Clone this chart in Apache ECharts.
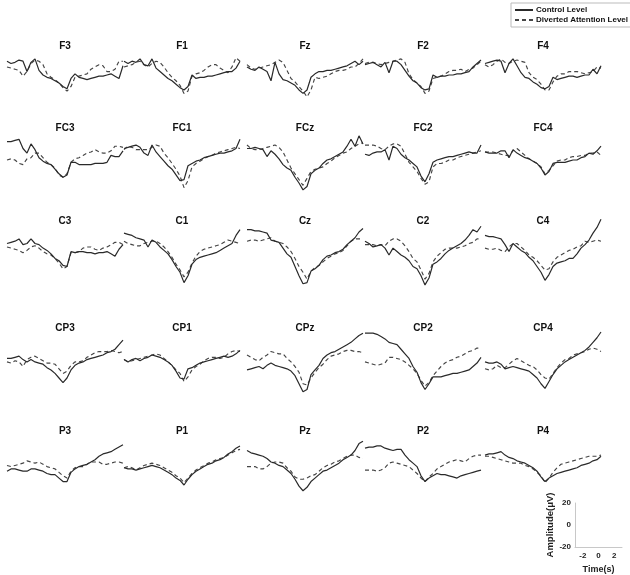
<!DOCTYPE html>
<html>
<head>
<meta charset="utf-8">
<script src="https://cdn.jsdelivr.net/npm/echarts@6/dist/echarts.min.js"></script>
<style>
  html, body { margin: 0; padding: 0; background: #fff; }
  #chart { width: 630px; height: 575px; }
</style>
</head>
<body>
<div id="chart"></div>
<script>
// time samples (s) shared by every panel
const times = [-2.9, -2.7, -2.5, -2.3, -2.1, -1.9, -1.7, -1.5, -1.3, -1.1, -0.9, -0.7, -0.5, -0.3, -0.1,
  0.1, 0.3, 0.5, 0.7, 0.9, 1.1, 1.3, 1.5, 1.7, 1.9, 2.1, 2.3, 2.5, 2.7, 2.9];

// electrode grid, row by row
const channelRows = [
  ['F3', 'F1', 'Fz', 'F2', 'F4'],
  ['FC3', 'FC1', 'FCz', 'FC2', 'FC4'],
  ['C3', 'C1', 'Cz', 'C2', 'C4'],
  ['CP3', 'CP1', 'CPz', 'CP2', 'CP4'],
  ['P3', 'P1', 'Pz', 'P2', 'P4']
];

// scale bar ticks
const scaleTimeTicks = [-2, 0, 2];
const scaleAmpTicks = [-20, 0, 20];

// amplitudes (uV), control vs diverted attention
const F3_control = [12, 10, 11, 13, 12, 3, 11, 14, 4, 0, -2, -3, -5, -7, -10, -12, -3, 1, -2, -3, -4, -3, -2, -1, -1, 0, 1, -1, -3, 8];
const F3_diverted = [7, 6, 5, 4, -1, 3, 10, 13, 12, 9, 1, -2, -4, -7, -11, -14, -10, -2, -1, 0, 1, 5, 7, 9, 8, 3, 3, 5, 12, 12];
const F1_control = [12, 10, 12, 11, 14, 9, 8, 14, 6, 3, 0, -3, -5, -8, -11, -13, -10, 0, -3, -2, -2, -1, -1, 0, 1, 2, 3, 3, 6, 12];
const F1_diverted = [7, 8, 9, 11, 12, 9, 7, 10, 12, 11, 7, 2, -2, -5, -9, -16, -14, -1, 1, 2, 4, 7, 9, 9, 6, 4, 2, 7, 15, 12];
const Fz_control = [7, 5, 4, 7, 5, 3, -5, 11, 1, -4, -5, -7, -9, -13, -16, -13, -2, 1, 3, 3, 4, 4, 5, 6, 7, 8, 10, 12, 9, 12];
const Fz_diverted = [9, 6, 5, 6, 7, 8, 9, 11, 13, 11, 4, -3, -6, -10, -14, -19, -13, -2, -3, -2, -1, 1, 3, 4, 4, 5, 7, 7, 10, 14];
const F2_control = [9, 10, 11, 9, 7, 11, 2, 12, 12, 9, 4, -1, -5, -7, -11, -13, -12, 0, -2, -1, -1, 0, 0, 1, 1, 2, 3, 7, 10, 13];
const F2_diverted = [10, 11, 11, 10, 9, 10, 11, 12, 13, 14, 11, 1, -4, -7, -10, -16, -14, -3, -2, -1, 1, 3, 4, 4, 5, 3, 5, 6, 9, 12];
const F4_control = [10, 11, 12, 13, 12, 2, 10, 14, 8, 2, -2, -3, -6, -8, -11, -12, -10, -2, -4, -3, -2, -1, -1, -2, -1, 0, 0, 5, 1, 8];
const F4_diverted = [9, 7, 9, 12, 14, 11, 10, 12, 13, 12, 11, 2, -2, -4, -8, -13, -13, -6, -1, 1, 1, 3, 3, 3, 2, 1, 2, 3, 7, 6];

const FC3_control = [16, 16, 17, 18, 10, 6, 14, 9, 2, -1, -3, -4, -8, -12, -15, -13, -2, -2, -4, -4, -4, -4, -3, -3, -3, -2, 4, 3, 3, 8];
const FC3_diverted = [0, 1, 0, -3, -4, 1, 2, 6, 6, 2, -2, -4, -7, -13, -15, -12, -2, 1, 2, 4, 6, 7, 9, 7, 6, 6, 8, 12, 12, 11];
const FC1_control = [10, 11, 12, 13, 11, 6, 4, 13, 7, 3, -1, -5, -8, -13, -18, -17, -5, -3, -1, 0, 2, 3, 4, 5, 6, 6, 7, 8, 10, 18];
const FC1_diverted = [9, 12, 11, 9, 9, 9, 9, 11, 13, 12, 6, 2, -3, -8, -14, -24, -18, -6, -3, -1, 1, 3, 4, 6, 7, 8, 9, 10, 11, 10];
const FCz_control = [10, 10, 11, 10, 9, 3, 8, 5, 1, -4, -7, -9, -15, -20, -26, -23, -12, -9, -7, -3, 0, 1, 3, 5, 7, 12, 18, 12, 21, 14];
const FCz_diverted = [13, 10, 9, 9, 10, 11, 12, 13, 11, 7, 0, -7, -12, -17, -22, -16, -10, -8, -7, -6, -3, -1, 2, 4, 6, 7, 10, 12, 14, 15];
const FC2_control = [5, 4, 6, 7, 7, 9, 0, 12, 10, 5, 2, 0, -3, -6, -14, -19, -12, -2, 0, 1, 2, 3, 3, 4, 5, 6, 7, 6, 6, 13];
const FC2_diverted = [13, 13, 13, 12, 10, 9, 12, 14, 14, 12, 5, -2, -6, -10, -16, -21, -19, -6, -3, -3, -2, 0, 0, 2, 3, 4, 5, 6, 7, 8];
const FC4_control = [7, 6, 6, 6, 8, 8, 2, 9, 6, 4, 2, 1, -1, -3, -7, -13, -10, -3, -2, -2, -2, -1, 0, 0, 2, 3, 6, 5, 8, 12];
const FC4_diverted = [7, 7, 7, 6, 5, 4, 4, 8, 10, 7, 4, 1, -1, -3, -6, -12, -9, -5, -1, 0, 0, 2, 3, 3, 4, 4, 6, 6, 7, 4];

const C3_control = [10, 11, 12, 14, 9, 10, 14, 10, 9, 6, 4, 1, -3, -5, -9, -10, 3, 2, 3, 3, 2, 2, 1, 2, 2, 3, 1, -1, 5, 9];
const C3_diverted = [7, 6, 5, 4, 2, 4, 7, 8, 6, 3, 1, 0, -3, -7, -12, -10, 2, 2, 3, 6, 7, 7, 5, 4, 6, 7, 9, 11, 11, 9];
const C1_control = [19, 18, 17, 15, 14, 13, 7, 13, 11, 7, 4, 1, -4, -10, -15, -24, -18, -8, -4, -2, -1, 0, 1, 2, 4, 6, 8, 10, 17, 22];
const C1_diverted = [12, 10, 9, 8, 8, 10, 11, 12, 12, 10, 7, 3, -2, -8, -13, -19, -15, -7, -1, 3, 5, 6, 7, 8, 9, 11, 13, 12, 11, 10];
const Cz_control = [22, 22, 21, 21, 20, 19, 13, 12, 11, 6, 1, -2, -10, -18, -25, -24, -14, -12, -9, -4, -1, 0, 2, 3, 5, 9, 12, 15, 20, 23];
const Cz_diverted = [12, 13, 13, 12, 13, 14, 15, 12, 11, 10, 7, 3, -3, -10, -15, -21, -14, -11, -9, -6, -3, -1, 1, 2, 4, 8, 12, 14, 14, 14];
const C2_control = [12, 10, 7, 8, 9, 6, 0, 6, 3, 0, -2, -5, -10, -12, -18, -26, -20, -8, -6, -3, 1, 4, 6, 8, 10, 13, 17, 22, 20, 25];
const C2_diverted = [9, 9, 9, 8, 9, 8, 12, 14, 14, 12, 8, 3, -3, -6, -13, -21, -16, -6, -1, 2, 5, 6, 6, 6, 7, 8, 10, 11, 14, 14];
const C4_control = [17, 16, 16, 15, 14, 9, 3, 10, 7, 4, 2, -2, -5, -10, -15, -22, -17, -10, -7, -6, -5, -3, -3, 1, 6, 9, 13, 19, 24, 31];
const C4_diverted = [6, 5, 5, 6, 4, 3, 7, 10, 10, 7, 4, 0, -2, -5, -9, -13, -12, -6, -2, 0, 2, 4, 5, 7, 8, 12, 11, 12, 13, 12];

const CP3_control = [-3, -3, -2, -1, -4, -6, -4, -6, -7, -8, -11, -13, -16, -20, -24, -20, -13, -9, -7, -6, -4, -3, -2, -1, 0, 2, 3, 5, 9, 13];
const CP3_diverted = [-6, -7, -5, -6, -10, -4, -2, -1, -3, -5, -7, -7, -8, -12, -16, -14, -9, -6, -6, -5, -2, 0, 2, 3, 3, 3, 4, 3, 2, 3];
const CP1_control = [-4, -6, -4, -3, -5, -3, -2, 0, -1, -2, -4, -6, -9, -14, -20, -21, -12, -11, -9, -7, -6, -5, -4, -3, -2, -1, -2, -1, 1, 4];
const CP1_diverted = [-4, -6, -5, -4, -3, -2, -1, 0, 1, 0, -3, -6, -9, -13, -16, -23, -19, -13, -10, -8, -5, -3, -2, -2, -3, -2, 1, 3, 4, 3];
const CPz_control = [-13, -12, -11, -10, -12, -9, -7, -9, -10, -11, -12, -14, -18, -25, -32, -30, -17, -13, -9, -3, 0, 2, 3, 5, 7, 9, 11, 14, 17, 19];
const CPz_diverted = [0, -2, -4, -5, -2, 0, 3, 2, 1, 1, -3, -6, -10, -15, -25, -26, -20, -15, -11, -8, -4, -1, 0, 1, 3, 4, 4, 3, 3, 2];
const CP2_control = [19, 19, 19, 18, 16, 14, 11, 10, 9, 5, 1, -3, -10, -15, -24, -30, -25, -19, -19, -19, -18, -17, -16, -16, -15, -14, -13, -10, -7, -2];
const CP2_diverted = [-6, -7, -8, -9, -8, -7, -2, -2, -3, -4, -6, -9, -12, -16, -22, -27, -24, -18, -14, -10, -7, -5, -4, -2, -1, 1, 3, 4, 6, 6];
const CP4_control = [-6, -7, -7, -6, -8, -12, -11, -10, -11, -12, -13, -14, -17, -20, -25, -29, -23, -17, -12, -9, -6, -4, -2, 0, 2, 4, 7, 11, 15, 20];
const CP4_diverted = [-12, -13, -12, -9, -11, -11, -8, -5, -3, -5, -7, -9, -10, -13, -17, -20, -21, -16, -11, -7, -4, -3, 0, 1, 2, 3, 5, 6, 5, 3];

const P3_control = [-8, -6, -6, -7, -8, -8, -6, -6, -7, -8, -10, -11, -11, -14, -17, -17, -9, -6, -4, -3, -2, 0, 2, 5, 7, 8, 9, 11, 13, 15];
const P3_diverted = [-3, -4, -3, -2, -1, 1, 0, -1, 0, -2, -4, -5, -6, -9, -12, -14, -8, -5, -4, -4, -2, 0, 0, 0, -2, -2, -1, 0, 0, -1];
const P1_control = [-5, -6, -6, -7, -6, -5, -4, -3, -4, -5, -7, -9, -11, -14, -16, -20, -15, -11, -8, -6, -4, -2, -1, 1, 2, 4, 7, 9, 12, 14];
const P1_diverted = [-5, -4, -5, -7, -5, -3, -2, -1, -2, -3, -5, -7, -9, -12, -14, -18, -14, -10, -7, -5, -3, -1, 0, 2, 3, 4, 6, 8, 10, 11];
const Pz_control = [10, 8, 7, 6, 5, 3, 0, -1, -3, -4, -7, -10, -15, -21, -25, -22, -17, -14, -11, -8, -7, -5, -3, -1, 2, 4, 6, 10, 16, 18];
const Pz_diverted = [-4, -4, -4, -6, -6, -4, -1, 0, 0, -1, -5, -8, -13, -15, -15, -14, -12, -11, -8, -5, -3, -2, 0, 1, 3, 5, 6, 6, 4, 3];
const P2_control = [12, 13, 13, 14, 14, 12, 11, 10, 11, 11, 6, 2, -1, -4, -12, -17, -14, -12, -10, -11, -11, -12, -13, -14, -12, -11, -10, -9, -8, -7];
const P2_diverted = [-7, -7, -7, -8, -7, -5, -1, 0, -1, -2, -3, -4, -7, -10, -14, -17, -13, -10, -6, -4, -2, 0, 1, 2, 1, 0, 3, 5, 6, 6];
const P4_control = [6, 7, 7, 8, 9, 6, 4, 3, 1, 0, -1, -3, -5, -8, -13, -17, -14, -12, -10, -9, -8, -7, -6, -5, -3, -2, -1, 1, 2, 5];
const P4_diverted = [5, 5, 4, 3, 2, 1, 0, -1, -1, -1, -3, -4, -6, -9, -12, -18, -14, -9, -5, -2, -1, 0, 1, 2, 3, 4, 5, 5, 5, 6];

const waves = {
  F3: [F3_control, F3_diverted], F1: [F1_control, F1_diverted], Fz: [Fz_control, Fz_diverted],
  F2: [F2_control, F2_diverted], F4: [F4_control, F4_diverted],
  FC3: [FC3_control, FC3_diverted], FC1: [FC1_control, FC1_diverted], FCz: [FCz_control, FCz_diverted],
  FC2: [FC2_control, FC2_diverted], FC4: [FC4_control, FC4_diverted],
  C3: [C3_control, C3_diverted], C1: [C1_control, C1_diverted], Cz: [Cz_control, Cz_diverted],
  C2: [C2_control, C2_diverted], C4: [C4_control, C4_diverted],
  CP3: [CP3_control, CP3_diverted], CP1: [CP1_control, CP1_diverted], CPz: [CPz_control, CPz_diverted],
  CP2: [CP2_control, CP2_diverted], CP4: [CP4_control, CP4_diverted],
  P3: [P3_control, P3_diverted], P1: [P1_control, P1_diverted], Pz: [Pz_control, Pz_diverted],
  P2: [P2_control, P2_diverted], P4: [P4_control, P4_diverted]
};

// layout
const FONT = '"Liberation Sans", Arial, sans-serif';
const SOLID = '#2a2a2a';
const DASHED = '#454545';
const colLeft = [7, 124, 247, 365, 485];
const panelW = 116;
const rowZero = [75, 160, 255, 355, 462]; // pixel y of 0 uV per row
const labelY = [46, 128, 221, 328, 431];
const pxPerUV = 1.15;
const ampRange = 40;

const grid = [], xAxis = [], yAxis = [], series = [], graphic = [];

channelRows.forEach((row, r) => {
  row.forEach((name, c) => {
    const k = grid.length;
    grid.push({
      left: colLeft[c],
      top: rowZero[r] - ampRange * pxPerUV,
      width: panelW,
      height: 2 * ampRange * pxPerUV
    });
    xAxis.push({ gridIndex: k, type: 'category', data: times, boundaryGap: false, show: false });
    yAxis.push({ gridIndex: k, type: 'value', min: -ampRange, max: ampRange, show: false });
    series.push({
      name: 'Diverted Attention Level',
      type: 'line',
      xAxisIndex: k,
      yAxisIndex: k,
      data: waves[name][1],
      symbol: 'none',
      silent: true,
      itemStyle: { color: DASHED },
      lineStyle: { color: DASHED, width: 1.15, type: [4, 3] }
    });
    series.push({
      name: 'Control Level',
      type: 'line',
      xAxisIndex: k,
      yAxisIndex: k,
      data: waves[name][0],
      symbol: 'none',
      silent: true,
      itemStyle: { color: SOLID },
      lineStyle: { color: SOLID, width: 1.2 }
    });
    graphic.push({
      type: 'text',
      x: colLeft[c] + panelW / 2,
      y: labelY[r],
      style: {
        text: name,
        fill: '#111',
        font: 'bold 10px ' + FONT,
        textAlign: 'center',
        textVerticalAlign: 'middle',
        align: 'center',
        verticalAlign: 'middle'
      }
    });
  });
});

// scale bar axes (bottom right)
const sb = grid.length;
grid.push({ left: 575, top: 503, width: 47, height: 46 });
xAxis.push({
  gridIndex: sb,
  type: 'value',
  min: -3,
  max: 3,
  interval: 1,
  axisLine: { show: true, onZero: false, lineStyle: { color: '#c8c8c8' } },
  axisTick: { show: false },
  splitLine: { show: false },
  axisLabel: {
    color: '#222', fontSize: 8, fontWeight: 'bold', fontFamily: FONT, margin: 5,
    formatter: v => (scaleTimeTicks.includes(v) ? String(v) : '')
  },
  name: 'Time(s)',
  nameLocation: 'middle',
  nameGap: 18,
  nameTextStyle: { color: '#222', fontSize: 9, fontWeight: 'bold', fontFamily: FONT }
});
yAxis.push({
  gridIndex: sb,
  type: 'value',
  min: scaleAmpTicks[0],
  max: scaleAmpTicks[2],
  interval: 20,
  axisLine: { show: true, onZero: false, lineStyle: { color: '#c8c8c8' } },
  axisTick: { show: false },
  splitLine: { show: false },
  axisLabel: { color: '#222', fontSize: 8, fontWeight: 'bold', fontFamily: FONT, margin: 4 },
  name: 'Amplitude(μV)',
  nameLocation: 'middle',
  nameGap: 17,
  nameRotate: 90,
  nameTextStyle: { color: '#222', fontSize: 9.5, fontWeight: 'bold', fontFamily: FONT }
});

const chart = echarts.init(document.getElementById('chart'));
chart.setOption({
  animation: false,
  backgroundColor: '#fff',
  legend: {
    data: ['Control Level', 'Diverted Attention Level'],
    orient: 'vertical',
    left: 511,
    top: 3,
    itemWidth: 18,
    itemHeight: 8,
    itemGap: 2,
    padding: [3, 8, 3, 3],
    borderColor: '#bbb',
    borderWidth: 1,
    itemStyle: { opacity: 0 },
    textStyle: { color: '#111', fontSize: 8, fontWeight: 'bold', fontFamily: FONT, padding: [0, 0, 0, -2] }
  },
  grid: grid,
  xAxis: xAxis,
  yAxis: yAxis,
  series: series,
  graphic: graphic
});
</script>
</body>
</html>
